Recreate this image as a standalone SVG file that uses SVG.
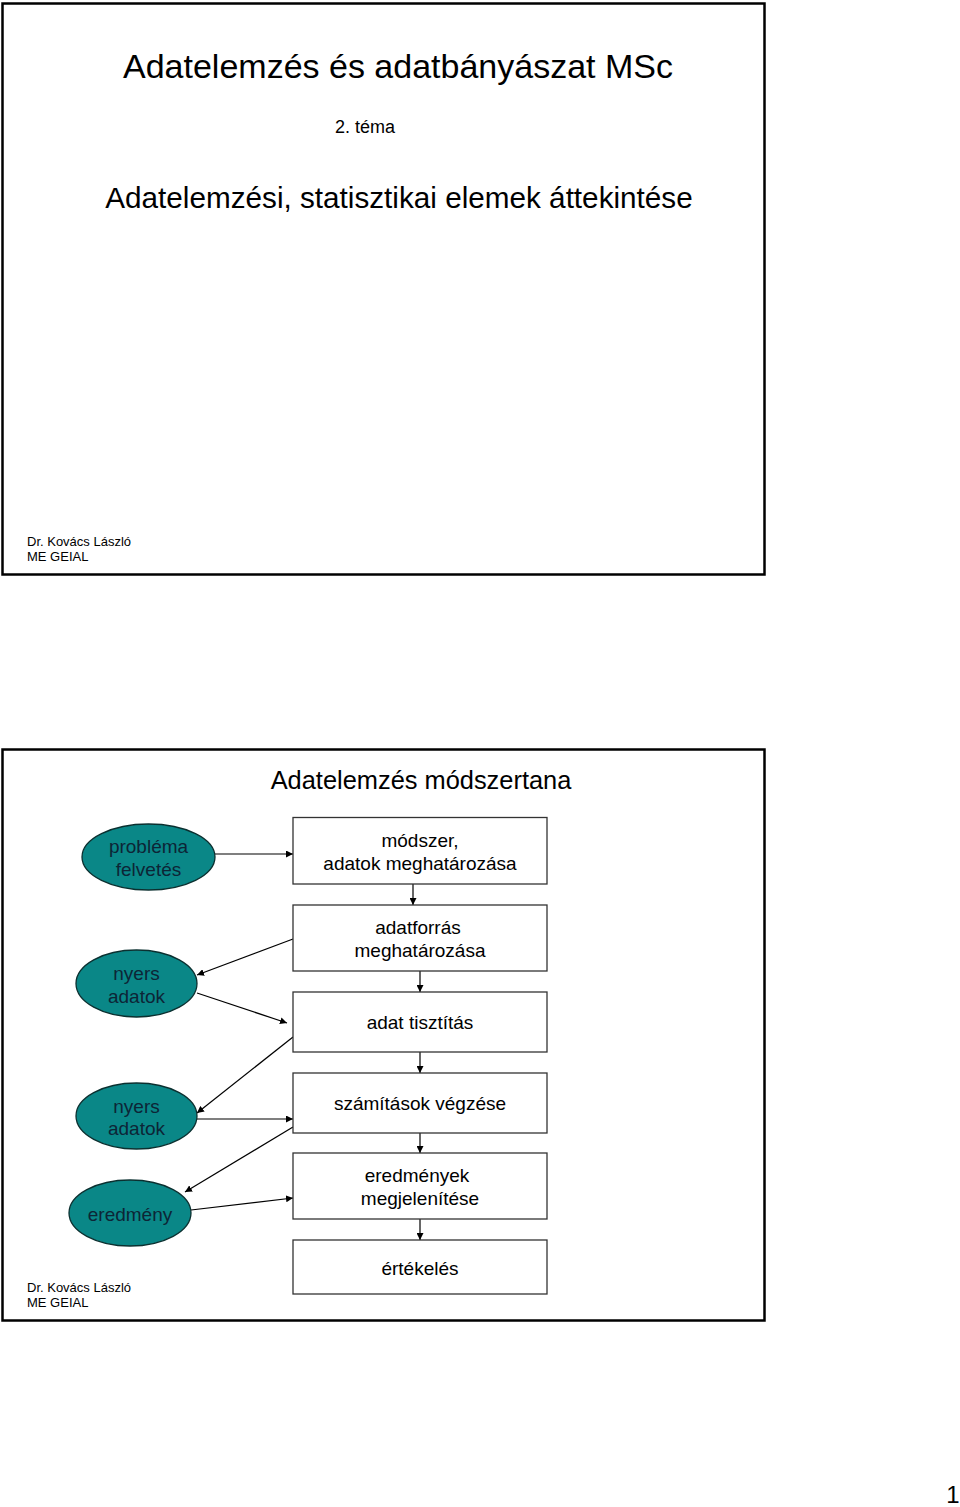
<svg xmlns="http://www.w3.org/2000/svg" width="960" height="1507" viewBox="0 0 960 1507">
<defs>
<style>
.slide{fill:#fff;stroke:#000;stroke-width:2.5}
.t{font-family:"Liberation Sans",Arial,sans-serif;fill:#000}
.box{fill:#fff;stroke:#333;stroke-width:1.3}
.ell{fill:#0a8787;stroke:#0b3030;stroke-width:1.3}
.et{font-family:"Liberation Sans",Arial,sans-serif;fill:#0d2536;font-size:19px;text-anchor:middle}
.bt{font-family:"Liberation Sans",Arial,sans-serif;fill:#000;font-size:19px;text-anchor:middle}
.c{stroke:#000;stroke-width:1.2;fill:none;marker-end:url(#ah)}
</style>
<marker id="ah" viewBox="0 0 10 10" refX="10" refY="5" markerWidth="7" markerHeight="7" markerUnits="userSpaceOnUse" orient="auto"><path d="M0,0 L10,5 L0,10 z" fill="#000"/></marker>
</defs>
<rect width="960" height="1507" fill="#fff"/>
<g id="slide1">
<rect class="slide" x="2.5" y="3.5" width="762" height="571"/>
<text class="t" x="398" y="78" font-size="34" text-anchor="middle">Adatelemzés és adatbányászat MSc</text>
<text class="t" x="365" y="133" font-size="18" text-anchor="middle">2. téma</text>
<text class="t" x="399" y="208" font-size="29.7" text-anchor="middle">Adatelemzési, statisztikai elemek áttekintése</text>
<text class="t" x="27" y="546" font-size="13">Dr. Kovács László</text>
<text class="t" x="27" y="561" font-size="13">ME GEIAL</text>
</g>
<g id="slide2">
<rect class="slide" x="2.5" y="749.5" width="762" height="571"/>
<text class="t" x="421" y="789" font-size="25.4" text-anchor="middle">Adatelemzés módszertana</text>
<text class="t" x="27" y="1292" font-size="13">Dr. Kovács László</text>
<text class="t" x="27" y="1307" font-size="13">ME GEIAL</text>
</g>
<g id="connectors">
<line class="c" x1="215" y1="854" x2="293" y2="854"/>
<line class="c" x1="413" y1="884" x2="413" y2="905"/>
<line class="c" x1="420" y1="971" x2="420" y2="992"/>
<line class="c" x1="420" y1="1052" x2="420" y2="1073"/>
<line class="c" x1="420" y1="1133" x2="420" y2="1153"/>
<line class="c" x1="420" y1="1219" x2="420" y2="1240"/>
<line class="c" x1="293" y1="939" x2="197" y2="975"/>
<line class="c" x1="197" y1="993" x2="287" y2="1023"/>
<line class="c" x1="293" y1="1037" x2="197" y2="1113"/>
<line class="c" x1="197" y1="1119" x2="293" y2="1119"/>
<line class="c" x1="293" y1="1127" x2="185" y2="1192"/>
<line class="c" x1="191" y1="1210" x2="293" y2="1198"/>
</g>
<g id="n-problema">
<ellipse class="ell" cx="148.5" cy="857" rx="66.5" ry="33"/>
<text class="et" x="148.5" y="853">probléma</text>
<text class="et" x="148.5" y="876">felvetés</text>
</g>
<g id="n-nyers1">
<ellipse class="ell" cx="136.5" cy="983.5" rx="60.5" ry="33.5"/>
<text class="et" x="136.5" y="980">nyers</text>
<text class="et" x="136.5" y="1003">adatok</text>
</g>
<g id="n-nyers2">
<ellipse class="ell" cx="136.5" cy="1116" rx="60.5" ry="33"/>
<text class="et" x="136.5" y="1113">nyers</text>
<text class="et" x="136.5" y="1135">adatok</text>
</g>
<g id="n-eredmeny">
<ellipse class="ell" cx="130" cy="1213" rx="61" ry="33"/>
<text class="et" x="130" y="1221">eredmény</text>
</g>
<g id="b-modszer">
<rect class="box" x="293" y="817.5" width="254" height="66.5"/>
<text class="bt" x="420" y="847">módszer,</text>
<text class="bt" x="420" y="870">adatok meghatározása</text>
</g>
<g id="b-adatforras">
<rect class="box" x="293" y="905" width="254" height="66"/>
<text class="bt" x="418" y="934">adatforrás</text>
<text class="bt" x="420" y="957">meghatározása</text>
</g>
<g id="b-tisztitas">
<rect class="box" x="293" y="992" width="254" height="60"/>
<text class="bt" x="420" y="1029">adat tisztítás</text>
</g>
<g id="b-szamitasok">
<rect class="box" x="293" y="1073" width="254" height="60"/>
<text class="bt" x="420" y="1110">számítások végzése</text>
</g>
<g id="b-eredmenyek">
<rect class="box" x="293" y="1153" width="254" height="66"/>
<text class="bt" x="417" y="1182">eredmények</text>
<text class="bt" x="420" y="1205">megjelenítése</text>
</g>
<g id="b-ertekeles">
<rect class="box" x="293" y="1240" width="254" height="54"/>
<text class="bt" x="420" y="1275">értékelés</text>
</g>
<text class="t" x="953" y="1503" font-size="24" text-anchor="middle">1</text>
</svg>
